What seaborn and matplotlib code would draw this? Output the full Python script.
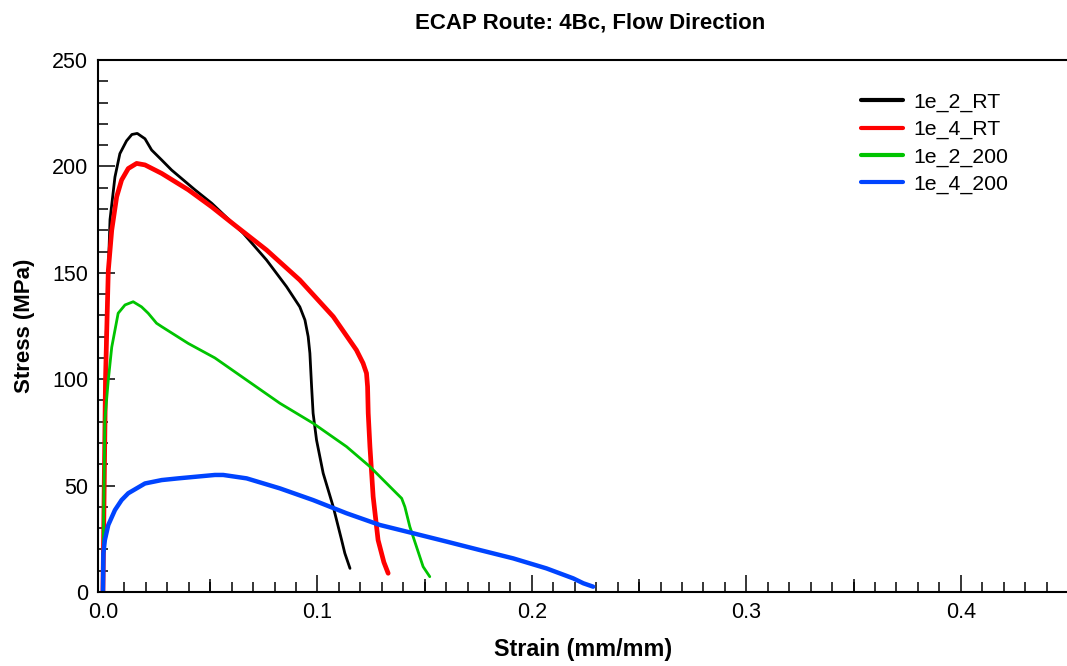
import numpy as np
import pandas as pd
import matplotlib
matplotlib.use("Agg")
import matplotlib.pyplot as plt
from matplotlib.ticker import MultipleLocator, FixedLocator
import seaborn as sns

# ---- data ----
labels = ["1e_2_RT", "1e_4_RT", "1e_2_200", "1e_4_200"]
colors = ["#000000", "#ff0000", "#00c400", "#0044ff"]
widths = [2.0, 3.4, 2.0, 3.2]

strain_2RT = [0.0, 0.0015, 0.0033, 0.0056, 0.0079, 0.0110, 0.0135, 0.0160, 0.0196, 0.0227, 0.0274,
              0.0320, 0.0429, 0.0507, 0.0654, 0.0763, 0.0856, 0.0918, 0.0942, 0.0957,
              0.0965, 0.0973, 0.0980, 0.0996, 0.1027, 0.1074, 0.1113, 0.1128, 0.1152]
stress_2RT = [0.0, 120.0, 175.0, 195.0, 206.0, 212.0, 215.0, 215.5, 213.0, 207.7, 203.0,
              198.3, 189.0, 182.7, 168.6, 156.0, 143.5, 134.0, 127.8, 120.0,
              112.2, 96.5, 84.0, 71.4, 55.8, 40.0, 24.4, 18.2, 11.1]

strain_4RT = [0.0, 0.0012, 0.0025, 0.0041, 0.0064, 0.0087, 0.0118, 0.0157, 0.0196, 0.0274,
              0.0398, 0.0507, 0.0607, 0.0763, 0.0918, 0.1074, 0.1182, 0.1213, 0.1229,
              0.1234, 0.1237, 0.1245, 0.1260, 0.1283, 0.1310, 0.1330]
stress_4RT = [0.0, 100.0, 151.0, 170.0, 185.7, 193.6, 199.0, 201.4, 200.7, 196.7,
              189.0, 181.0, 173.0, 160.7, 146.6, 129.4, 113.7, 107.5, 102.8,
              96.5, 84.0, 68.3, 44.8, 24.4, 14.0, 8.8]

strain_2200 = [0.0, 0.0003, 0.0009, 0.0025, 0.0041, 0.0071, 0.0103, 0.0141, 0.0180, 0.0211,
               0.0250, 0.0274, 0.0398, 0.0522, 0.0825, 0.0980, 0.1136, 0.1245, 0.1369,
               0.1393, 0.1408, 0.1431, 0.1462, 0.1493, 0.1524]
stress_2200 = [0.0, 34.0, 80.8, 99.6, 115.0, 131.0, 134.9, 136.4, 134.0, 131.0,
               126.3, 124.7, 116.8, 110.0, 88.7, 79.3, 68.3, 58.9, 46.4,
               44.0, 40.0, 30.7, 21.3, 11.9, 7.2]

strain_4200 = [0.0, 0.0002, 0.0009, 0.0025, 0.0056, 0.0087, 0.0118, 0.0196, 0.0274, 0.0351,
               0.0522, 0.0561, 0.0670, 0.0825, 0.0980, 0.1136, 0.1291, 0.1447, 0.1602,
               0.1758, 0.1913, 0.2068, 0.2193, 0.2240, 0.2286]
stress_4200 = [0.0, 18.0, 24.4, 31.5, 38.5, 43.2, 46.4, 51.0, 52.6, 53.4,
               55.0, 55.0, 53.4, 48.7, 43.2, 37.0, 31.5, 27.6, 23.7,
               19.7, 15.8, 11.1, 6.4, 4.1, 2.5]

x_ticks = [0.0, 0.1, 0.2, 0.3, 0.4]
x_tick_labels = ["0.0", "0.1", "0.2", "0.3", "0.4"]
y_ticks = [0, 50, 100, 150, 200, 250]

series = [(strain_2RT, stress_2RT), (strain_4RT, stress_4RT),
          (strain_2200, stress_2200), (strain_4200, stress_4200)]

# ---- plot ----
sns.set_theme(style="white", rc={"text.color": "black", "axes.labelcolor": "black",
                                 "xtick.color": "black", "ytick.color": "black",
                                 "axes.edgecolor": "black"})
plt.rcParams["font.family"] = ["Liberation Sans", "DejaVu Sans"]

W, H = 1067, 666
fig = plt.figure(figsize=(W / 100, H / 100), dpi=100)
ax = fig.add_axes([98 / W, 1 - 592 / H, 970 / W, 532 / H])

for (xs, ys), lab, col, lw in zip(series, labels, colors, widths):
    df = pd.DataFrame({"Strain": xs, "Stress": ys})
    sns.lineplot(data=df, x="Strain", y="Stress", sort=False, estimator=None,
                 color=col, linewidth=lw, label=lab, ax=ax)

ax.set_xlim(-0.0023, 0.45)
ax.set_ylim(0, 250)

ax.xaxis.set_major_locator(FixedLocator(x_ticks))
ax.set_xticklabels(x_tick_labels)
ax.xaxis.set_minor_locator(MultipleLocator(0.01))
ax.yaxis.set_major_locator(FixedLocator(y_ticks))
ax.yaxis.set_minor_locator(MultipleLocator(10))

ax.tick_params(axis="both", which="major", direction="in", length=12.5, width=1.1,
               labelsize=15.5, colors="black", bottom=True, left=True)
ax.tick_params(axis="x", which="major", pad=7)
ax.tick_params(axis="y", which="major", pad=7)
ax.tick_params(axis="both", which="minor", direction="in", length=7.2, width=1.1,
               bottom=True, left=True, colors="black")

# medium ticks at 0.05 intervals
sec = ax.secondary_xaxis("bottom")
sec.xaxis.set_major_locator(FixedLocator([0.05, 0.15, 0.25, 0.35, 0.45]))
sec.tick_params(direction="in", length=9.6, width=1.1, labelbottom=False, colors="black")
sec.spines["bottom"].set_visible(False)

for s in ["left", "bottom", "top"]:
    ax.spines[s].set_visible(True)
    ax.spines[s].set_color("black")
    ax.spines[s].set_linewidth(1.5)
ax.spines["right"].set_visible(False)

ax.set_xlabel("Strain (mm/mm)", fontsize=16.8, fontweight="bold", labelpad=11)
ax.set_ylabel("Stress (MPa)", fontsize=16, fontweight="bold", labelpad=12)
ax.set_title("ECAP Route: 4Bc, Flow Direction", fontsize=16, fontweight="bold",
             pad=23, x=(590 - 98) / 970)

leg = ax.legend(loc="upper left", bbox_to_anchor=(846 / W, 1 - 78 / H),
                bbox_transform=fig.transFigure, frameon=False, fontsize=15.3,
                handlelength=2.0, handletextpad=0.45, labelspacing=0.38, borderpad=0.2)
for line in leg.get_lines():
    line.set_linewidth(3.0)

fig.savefig("out.png", dpi=100)
